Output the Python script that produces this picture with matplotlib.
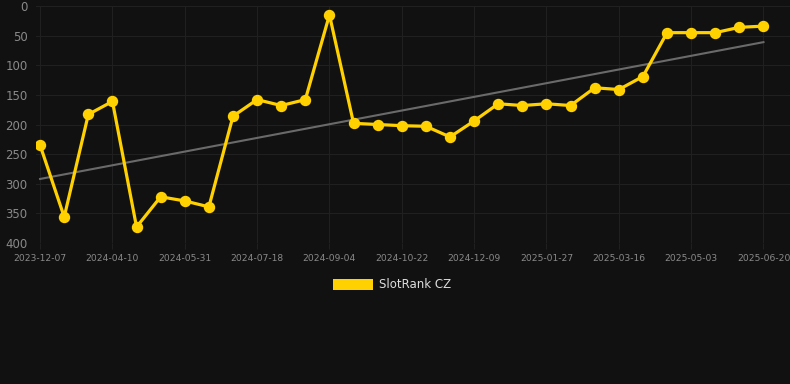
import matplotlib
matplotlib.use("Agg")
import matplotlib.pyplot as plt
import numpy as np
from matplotlib.patches import Rectangle

tick_labels = ["2023-12-07", "2024-04-10", "2024-05-31", "2024-07-18", "2024-09-04",
               "2024-10-22", "2024-12-09", "2025-01-27", "2025-03-16", "2025-05-03",
               "2025-06-20"]
rank = [235, 356, 183, 161, 373, 322, 329, 339, 186, 158, 168, 158, 15, 198, 200,
        202, 203, 221, 194, 165, 168, 165, 168, 138, 141, 119, 45, 45, 45, 36, 34]
series_name = "SlotRank CZ"

bg = "#111111"
fig = plt.figure(figsize=(7.9, 3.84), dpi=100, facecolor=bg)
ax = fig.add_axes([36/790, 1-243/384, 754/790, 237/384], facecolor=bg)

x = np.arange(len(rank))
coef = np.polyfit(x, rank, 1)
ax.plot(x, np.polyval(coef, x), color="#6a6a6a", lw=1.5, zorder=2)
ax.plot(x, rank, color="#FFD100", lw=2.3, marker="o", ms=7.2, zorder=3)

ax.set_ylim(400, 0)
ax.set_xlim(-0.17, 31.1)
ax.set_yticks([0, 50, 100, 150, 200, 250, 300, 350, 400])
ax.set_xticks(np.arange(0, len(rank), 3))
ax.set_xticklabels(tick_labels)
ax.grid(True, color="#202020", lw=0.8)
ax.set_axisbelow(True)
for s in ax.spines.values():
    s.set_visible(False)
ax.tick_params(axis="y", length=0, pad=6, labelsize=8.5, labelcolor="#8a8a8a")
ax.tick_params(axis="x", length=4, color="#202020", pad=4, labelsize=6.6, labelcolor="#8a8a8a")

fig.patches.append(Rectangle((333/790, 1-290/384), 40/790, 11/384, transform=fig.transFigure,
                             facecolor="#FFD100", edgecolor="none"))
fig.text(379/790, 1-285/384, series_name, color="#dddddd", fontsize=8.5, va="center", ha="left")

fig.savefig("out.png", dpi=100, facecolor=bg)
